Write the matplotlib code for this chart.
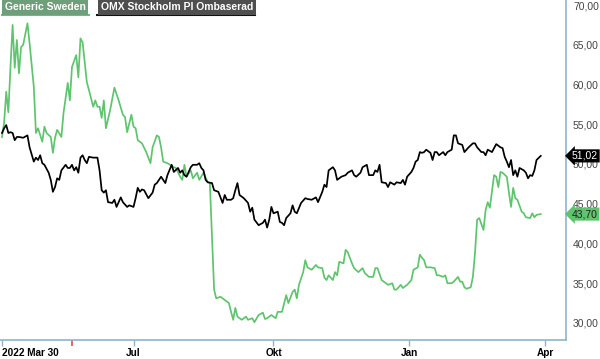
import numpy as np
import matplotlib.pyplot as plt
import matplotlib.transforms as mtransforms

# trading-day index (0 = 2022-03-30) and closing values
green_day = [0, 1, 2, 3, 4, 5, 6, 7, 8, 9, 10, 12, 13, 15, 16, 17, 19, 20, 21, 23,
             24, 25, 26, 28, 29, 31, 32, 33, 35, 36, 37, 38, 40, 41, 43, 44, 45, 46, 47, 48,
             49, 51, 53, 55, 57, 58, 59, 61, 62, 63, 64, 65, 66, 68, 70, 71, 73, 74, 75, 76,
             78, 81, 82, 84, 85, 86, 87, 89, 90, 92, 93, 95, 97, 98, 99, 100, 101, 103, 105, 107,
             108, 109, 110, 111, 113, 115, 116, 118, 119, 121, 123, 124, 125, 127, 129, 130, 132, 134, 135, 137,
             138, 139, 140, 142, 143, 144, 146, 148, 149, 151, 152, 153, 154, 156, 157, 158, 159, 161, 162, 163,
             165, 166, 168, 170, 171, 173, 175, 176, 177, 179, 181, 182, 184, 185, 186, 188, 189, 191, 193, 194,
             196, 197, 198, 199, 200, 202, 204, 205, 206, 208, 209, 210, 212, 213, 215, 216, 217, 218, 219, 221,
             222, 223, 224, 225, 227, 228, 229, 230, 231, 232, 233, 234, 235, 236, 238, 239, 240, 241, 242, 243,
             245, 246, 247, 249, 250, 251, 252, 254]
green_val = [53.4, 55.2, 59.1, 56.5, 62.2, 67.5, 62.1, 65.6, 61.4, 64.7, 65.0, 67.7, 65.2, 59.7, 53.9, 54.5, 52.8, 54.7, 53.9, 53.4,
             51.4, 53.3, 54.3, 53.4, 56.4, 60.2, 58.0, 62.2, 63.7, 60.9, 65.8, 65.3, 60.3, 59.3, 57.2, 58.0, 57.2, 57.2, 55.8, 58.0,
             54.5, 56.8, 59.6, 58.0, 56.2, 55.9, 54.0, 56.2, 54.7, 54.5, 53.0, 52.8, 52.6, 51.5, 50.1, 52.1, 53.6, 53.4, 52.1, 50.3,
             50.1, 49.6, 49.5, 48.4, 48.0, 49.9, 48.4, 49.2, 48.2, 48.9, 48.0, 48.9, 47.7, 47.6, 41.0, 34.2, 33.1, 33.3, 32.9, 32.5,
             31.4, 30.4, 31.9, 30.8, 30.4, 30.8, 30.4, 30.6, 30.1, 31.0, 31.3, 30.5, 30.6, 31.0, 30.6, 31.4, 31.4, 33.5, 32.5, 33.9,
             34.2, 33.1, 34.8, 36.4, 37.9, 37.0, 36.7, 37.3, 37.0, 36.9, 35.7, 35.4, 36.0, 35.4, 36.4, 36.0, 37.7, 37.5, 39.2, 38.9,
             37.5, 36.9, 36.4, 36.9, 36.3, 35.8, 35.8, 36.9, 36.9, 35.4, 35.0, 34.8, 35.0, 34.2, 34.2, 34.8, 34.4, 34.8, 35.4, 36.7,
             37.0, 38.6, 38.2, 37.9, 37.0, 37.0, 36.9, 36.0, 36.0, 35.8, 36.0, 35.0, 35.0, 35.2, 35.8, 35.2, 35.2, 34.5, 34.3, 34.5,
             35.8, 38.8, 43.0, 43.2, 41.7, 44.2, 45.2, 44.5, 46.5, 48.6, 48.4, 47.1, 49.0, 48.9, 48.4, 46.4, 44.6, 47.0, 45.7, 45.5,
             44.0, 43.8, 43.3, 43.2, 43.8, 43.3, 43.6, 43.70]

omx_day = [0, 1, 2, 3, 4, 5, 6, 7, 8, 10, 12, 13, 15, 16, 17, 18, 19, 20, 22, 23,
           24, 25, 26, 27, 28, 30, 31, 32, 33, 34, 35, 36, 37, 38, 39, 40, 41, 43, 45, 46,
           47, 48, 49, 50, 52, 53, 54, 56, 57, 59, 60, 62, 63, 64, 65, 66, 67, 69, 71, 72,
           73, 75, 77, 78, 80, 81, 83, 84, 85, 86, 87, 89, 90, 92, 93, 94, 95, 96, 97, 99,
           100, 102, 103, 104, 105, 106, 108, 109, 110, 111, 112, 114, 116, 117, 118, 119, 121, 123, 124, 125,
           126, 127, 128, 130, 131, 132, 133, 134, 136, 137, 138, 139, 141, 143, 144, 146, 148, 149, 151, 152,
           153, 154, 156, 157, 158, 160, 162, 163, 165, 166, 167, 169, 170, 172, 173, 175, 176, 177, 178, 179,
           181, 182, 183, 185, 186, 188, 189, 190, 191, 193, 194, 195, 196, 197, 198, 199, 200, 202, 203, 204,
           205, 206, 208, 209, 210, 212, 213, 214, 215, 217, 218, 220, 222, 223, 224, 226, 227, 228, 229, 231,
           232, 233, 235, 236, 237, 238, 239, 240, 241, 242, 243, 244, 246, 247, 248, 249, 250, 251, 252, 254]
omx_val = [53.9, 54.5, 54.9, 53.9, 54.0, 53.9, 53.0, 53.4, 53.4, 53.3, 53.6, 52.1, 50.3, 50.8, 50.5, 51.1, 50.1, 49.9, 48.9, 48.0,
           46.5, 47.1, 48.2, 48.0, 49.2, 49.9, 49.5, 49.5, 49.9, 49.2, 49.6, 48.9, 50.8, 51.1, 50.5, 50.1, 50.9, 50.8, 50.8, 49.2,
           46.7, 46.4, 46.7, 45.2, 45.1, 45.5, 44.6, 45.8, 45.2, 44.6, 44.8, 44.6, 45.7, 47.0, 46.5, 46.8, 46.7, 45.7, 46.4, 47.4,
           47.6, 48.4, 47.6, 48.6, 49.9, 49.0, 49.5, 48.9, 49.2, 48.6, 48.4, 49.6, 49.9, 49.9, 50.1, 49.5, 49.2, 48.0, 47.7, 47.6,
           46.7, 46.5, 45.8, 45.1, 46.1, 45.5, 45.5, 45.7, 46.7, 47.6, 46.1, 45.7, 45.1, 44.0, 44.5, 43.0, 42.3, 42.6, 43.0, 42.0,
           43.0, 44.6, 43.8, 44.0, 42.7, 42.6, 42.3, 43.2, 43.8, 44.8, 44.0, 43.8, 45.1, 45.7, 45.6, 45.5, 45.8, 45.2, 46.5, 47.4,
           47.1, 49.2, 49.6, 49.2, 48.0, 48.4, 48.6, 48.9, 49.2, 48.6, 48.4, 48.9, 49.6, 49.9, 48.6, 48.6, 49.2, 49.0, 49.9, 47.7,
           47.6, 47.1, 47.7, 47.4, 47.7, 47.6, 48.0, 47.4, 48.4, 49.0, 49.5, 50.3, 50.5, 51.5, 51.4, 51.5, 51.8, 51.4, 50.5, 51.5,
           51.5, 51.1, 51.5, 51.1, 51.5, 51.8, 53.6, 53.6, 52.6, 52.4, 51.5, 52.1, 52.6, 52.6, 52.1, 51.5, 51.5, 51.1, 51.8, 51.5,
           52.0, 52.5, 52.1, 52.0, 50.9, 50.3, 49.6, 50.5, 48.6, 49.2, 48.4, 49.5, 49.2, 48.9, 48.2, 48.6, 48.5, 49.2, 50.5, 51.02]

tick_days = [0, 62, 128, 192, 256]
tick_labels = ['2022 Mar 30', 'Jul', 'Okt', 'Jan', 'Apr']
marker_day = 33
y_ticks = [30, 35, 40, 45, 50, 55, 60, 65, 70]

green = '#5ec46e'
axis_col = '#8fb4cc'

plt.rcParams['font.family'] = ['Liberation Sans', 'DejaVu Sans']

fig = plt.figure(figsize=(6, 3.59), dpi=100)
ax = fig.add_axes([0, 1 - 340 / 359, 566 / 600, 340 / 359])

ax.plot(green_day, green_val, color=green, lw=1.25)
ax.plot(omx_day, omx_val, color='black', lw=1.25)

ax.set_xlim(-0.94, 265.9)
ax.set_ylim(27.86, 70.63)

for s in ['left', 'top']:
    ax.spines[s].set_visible(False)
for s in ['right', 'bottom']:
    ax.spines[s].set_color(axis_col)
    ax.spines[s].set_linewidth(1.2)

ax.yaxis.tick_right()
ax.set_yticks(y_ticks)
ax.set_yticklabels(['%d,00' % v for v in y_ticks])
ax.tick_params(axis='y', length=0, pad=5, labelsize=7.5, labelcolor='#444444')

ax.set_xticks(tick_days)
ax.set_xticklabels(tick_labels, fontweight='bold')
ax.tick_params(axis='x', length=4, width=1, color=axis_col, pad=1.5, labelsize=7.2)
ax.get_xticklabels()[0].set_horizontalalignment('left')
# red event marker below the time axis
ax.plot([marker_day], [0], transform=mtransforms.blended_transform_factory(ax.transData, ax.transAxes),
        marker=3, ms=4, mew=1.2, color='#e84a4a', clip_on=False)

# legend chips
fig.text(5 / 600, 1 - 7 / 359, 'Generic Sweden', color='white', fontsize=7.5, fontweight='bold',
         va='center', ha='left',
         bbox=dict(boxstyle='square,pad=0.25', fc='#6e9e7a', ec='none'))
fig.text(101 / 600, 1 - 7 / 359, 'OMX Stockholm PI Ombaserad', color='white', fontsize=7.5,
         fontweight='bold', va='center', ha='left',
         bbox=dict(boxstyle='square,pad=0.25', fc='#4f4f4f', ec='none'))
fig.add_artist(plt.Line2D([2 / 600, 89 / 600], [1 - 14.5 / 359] * 2, color=green, lw=1.5))
fig.add_artist(plt.Line2D([97 / 600, 255 / 600], [1 - 14.5 / 359] * 2, color='#111111', lw=1.5))

# last value tags on the price axis
tr = mtransforms.blended_transform_factory(ax.transAxes, ax.transData)
ax.text(1.0 + 6 / 566, omx_val[-1], ('%.2f' % omx_val[-1]).replace('.', ','), transform=tr,
        color='white', fontsize=7.5, va='center', ha='left', clip_on=False,
        bbox=dict(boxstyle='larrow,pad=0.15', fc='black', ec='none'))
ax.text(1.0 + 6 / 566, green_val[-1], ('%.2f' % green_val[-1]).replace('.', ','), transform=tr,
        color='#222222', fontsize=7.5, va='center', ha='left', clip_on=False,
        bbox=dict(boxstyle='larrow,pad=0.15', fc=green, ec='none'))

fig.savefig('out.png', dpi=100)
